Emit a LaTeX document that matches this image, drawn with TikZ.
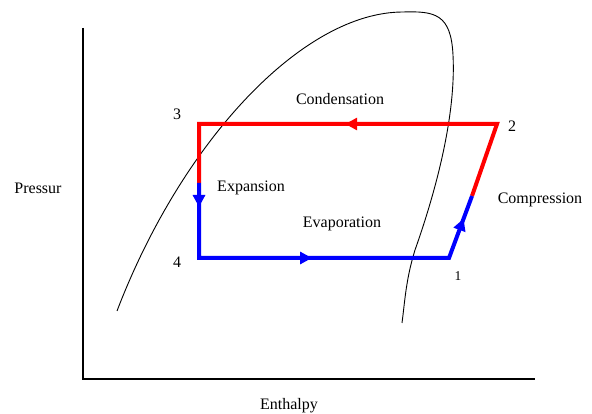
\documentclass[tikz,border=0pt]{standalone}
\usepackage{fontspec}
\setmainfont{Liberation Serif}
\usepackage{xcolor}
\usepackage{tikz}
\usetikzlibrary{arrows.meta, decorations.markings, calc}
\definecolor{hotred}{RGB}{255, 0, 0}
\definecolor{coldblue}{RGB}{0, 0, 255}
\tikzstyle{axis} = [draw, line width=2.4pt, black]
\tikzstyle{dome} = [draw, line width=0.9pt, black]
\tikzstyle{hotline} = [draw, line width=4pt, hotred, line join=miter]
\tikzstyle{coldline} = [draw, line width=4pt, coldblue, line join=miter]
\tikzstyle{lbl} = [font=\fontsize{16}{18}\selectfont, inner sep=0pt]
\tikzset{arrowat/.style={postaction={decorate, decoration={markings,
  mark=at position #1 with {\arrow{Triangle[length=12pt, width=12pt]}}}}}}

\begin{document}
\begin{tikzpicture}[x=1pt, y=-1pt]
    \useasboundingbox (0,0) rectangle (592,414);

    % axes
    \coordinate (origin) at (83,379);
    \coordinate (ytop) at (83,28);
    \coordinate (xend) at (535,379);
    \draw [axis] (ytop) -- (origin) -- (xend);

    % saturation dome
    \coordinate (domeL) at (117,311);
    \coordinate (domeTop) at (403,12);
    \coordinate (domeR) at (402,323);
    \draw [dome] (domeL) .. controls (182,141) and (303,12) .. (domeTop)
        .. controls (435,11) and (451,14) .. (453,55)
        .. controls (456,112) and (438,185) .. (415,250)
        .. controls (406,279) and (405,300) .. (domeR);

    % cycle corners
    \coordinate (p1) at (449,258);
    \coordinate (p2) at (497,124);
    \coordinate (p3) at (199,124);
    \coordinate (p4) at (199,258);
    \coordinate (split3) at (199,183);
    \coordinate (split1) at (472,196);

    \draw [hotline, arrowat=228pt] (split1) -- (p2) -- (p3) -- (split3);
    \draw [coldline, arrowat=24pt, arrowat=188pt, arrowat=367pt] (split3) -- (p4) -- (p1) -- (split1);

    % labels
    \node (n1) [lbl, font=\fontsize{13.5}{15}\selectfont] at (458,276) {1};
    \node (n2) [lbl] at (512,126) {2};
    \node (n3) [lbl] at (177,114) {3};
    \node (n4) [lbl] at (177,262) {4};
    \node (cond) [lbl] at (340,99) {Condensation};
    \node (expa) [lbl] at (251,188) {Expansion};
    \node (evap) [lbl] at (342,224) {Evaporation};
    \node (comp) [lbl] at (540,200) {Compression};
    \node (pres) [lbl] at (38,188) {Pressur};
    \node (enth) [lbl] at (289,406) {Enthalpy};
\end{tikzpicture}
\end{document}
